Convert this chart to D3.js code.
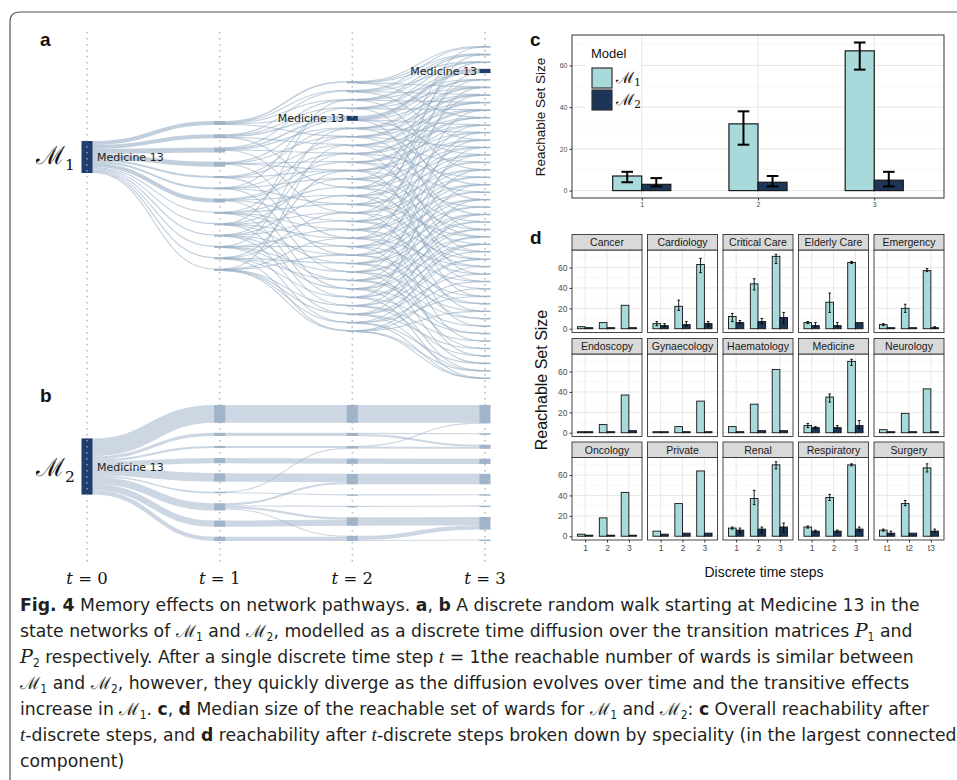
<!DOCTYPE html>
<html>
<head>
<meta charset="utf-8">
<script src="https://cdn.jsdelivr.net/npm/d3@7"></script>
<style>
  body { margin: 0; background: #fff; }
  svg { display: block; }
</style>
</head>
<body>
<svg id="fig" width="957" height="780"></svg>
<script>
// ---------- data ----------
const steps = [0, 1, 2, 3];
const wardLabel = "Medicine 13";

// panel a (M1): t0 -> t1 flows [from, to, weight]
const flowA01 = [[0,0,4],[0,1,4],[0,2,5],[0,3,5],[0,4,2],[0,5,2],[0,6,4],[0,7,1],[0,8,1],[0,9,1],[0,10,1],[0,11,1],[0,12,1]];
// t1 -> t2 : wards reached from each t1 ward
const reachA12 = [
  [0,1,2,4,6], [1,3,4,7,12], [2,4,5,8,15], [4,6,9,10,18], [5,7,10,20],
  [3,8,11,14,22], [9,10,13,16,24], [6,12,14,17,19,25], [2,11,15,18,21,26],
  [8,13,16,20,23,27], [5,17,19,22,24,28], [10,15,21,23,25,29], [7,18,20,26,27,28,29]
];
const heavyA12 = [[0,0,1.6],[0,2,1],[1,1,1],[1,4,1.5],[2,4,1.5],[3,4,1.2],[4,5,1],[6,9,1]];
// t2 -> t3
const reachA23 = [
  [0,1,2,5,9], [0,1,3,6,12], [1,2,4,7,16], [2,3,5,8,20], [3,4,6,10,14,24],
  [4,5,7,11,18], [5,6,8,13,22], [6,7,9,15,27], [7,8,10,17,30], [8,9,11,19,25],
  [9,10,12,21,33], [0,11,13,23,28], [2,12,14,24,31], [4,13,15,26,35], [1,14,16,25,29],
  [6,15,17,27,37], [3,16,18,28,32], [10,17,19,30,39], [5,18,20,29,34], [12,19,21,31,41],
  [8,20,22,33,36], [14,21,23,34,40], [11,22,24,35,42], [16,23,25,36,38], [18,24,26,37,43],
  [13,25,27,38,44], [20,26,28,39,41], [22,28,30,40,43], [26,31,33,42,44], [29,32,35,43,44]
];
const heavyA23 = [[4,3,3.2],[0,0,1],[1,1,0.8]];
const thinFlow = 0.35;
const medicineA = [0, -1, 4, 3];

// panel b (M2)
const flowB01 = [[0,0,17],[0,1,3],[0,2,2],[0,3,5],[0,4,8],[0,5,1.5],[0,6,7],[0,7,6],[0,8,4]];
const flowB12 = [[0,0,17],[1,1,3],[2,2,2],[3,3,5],[4,4,8],[5,5,1],[5,2,0.5],[6,4,2],[6,6,1],[6,7,2],[6,8,1],[7,7,6],[8,8,4]];
const flowB23 = [[0,0,17],[1,1,1],[1,2,2],[2,0,0.5],[2,2,2],[3,3,5],[4,4,10],[5,5,1],[6,6,1],[7,7,8],[8,7,4],[8,8,1]];
const medicineB = [0, -1, -1, -1];

// panel c: overall median reachable set size
const timeSteps = ["1", "2", "3"];
const overallM1 = [7, 32, 67];
const overallM1Lo = [4, 22, 58];
const overallM1Hi = [9, 38, 71];
const overallM2 = [3, 4, 5];
const overallM2Lo = [2, 2, 2];
const overallM2Hi = [6, 7, 9];
const yTicks = [0, 20, 40, 60];

// panel d: by speciality
const specialities = ["Cancer","Cardiology","Critical Care","Elderly Care","Emergency",
  "Endoscopy","Gynaecology","Haematology","Medicine","Neurology",
  "Oncology","Private","Renal","Respiratory","Surgery"];
const specM1 = [[2,6,23],[5,22,63],[12,44,71],[6,26,65],[4,20,57],
  [1,8,37],[1,6,31],[6,28,62],[7,35,70],[3,19,43],
  [2,18,43],[5,32,64],[8,37,70],[9,38,70],[6,32,67]];
const specM1Lo = [[2,6,23],[3,18,55],[7,38,64],[5,16,64],[3,16,56],
  [1,8,37],[1,6,31],[6,28,62],[5,30,66],[3,19,43],
  [2,18,43],[5,32,64],[7,31,66],[8,35,69],[5,30,63]];
const specM1Hi = [[2,6,23],[7,28,69],[15,49,73],[7,35,66],[5,24,59],
  [1,8,37],[1,6,31],[6,28,62],[9,38,72],[3,19,43],
  [2,18,43],[5,32,64],[9,45,73],[10,41,71],[7,35,71]];
const specM2 = [[1,1,1],[3,4,5],[6,7,11],[3,3,6],[1,1,1],
  [1,1,2],[1,1,1],[1,2,2],[5,5,7],[1,1,1],
  [1,1,1],[2,3,3],[6,7,9],[5,5,7],[3,3,5]];
const specM2Lo = [[1,1,1],[2,3,2],[5,5,5],[2,2,6],[1,1,0.5],
  [1,1,2],[1,1,1],[1,2,2],[4,4,4],[1,1,1],
  [1,1,1],[2,3,3],[3,3,4],[4,4,5],[2,3,4]];
const specM2Hi = [[1,1,1],[5,7,7],[8,10,16],[6,6,6],[1,1,2],
  [1,1,2],[1,1,1],[1,2,2],[6,7,12],[1,1,1],
  [1,1,1],[2,3,3],[8,9,13],[6,6,9],[5,3,7]];
const stepTicks = ["1", "2", "3"];
const surgeryTicks = ["t1", "t2", "t3"];

const captionLines = [
  [["b","Fig. 4"],["r","  Memory effects on network pathways. "],["b","a"],["r",", "],["b","b"],["r"," A discrete random walk starting at Medicine 13 in the"]],
  [["r","state networks of "],["m","1"],["r"," and "],["m","2"],["r",", modelled as a discrete time diffusion over the transition matrices "],["p","1"],["r"," and"]],
  [["p","2"],["r"," respectively. After a single discrete time step "],["i","t"],["r"," = 1the reachable number of wards is similar between"]],
  [["m","1"],["r"," and "],["m","2"],["r",", however, they quickly diverge as the diffusion evolves over time and the transitive effects"]],
  [["r","increase in "],["m","1"],["r",". "],["b","c"],["r",", "],["b","d"],["r"," Median size of the reachable set of wards for "],["m","1"],["r"," and "],["m","2"],["r",": "],["b","c"],["r"," Overall reachability after"]],
  [["i","t"],["r","-discrete steps, and "],["b","d"],["r"," reachability after "],["i","t"],["r","-discrete steps broken down by speciality (in the largest connected"]],
  [["r","component)"]]
];

// ---------- drawing ----------
const svg = d3.select("#fig");
const SANS = "'Liberation Sans', Arial, sans-serif";
const colM1 = "#a8dadc", colM2 = "#1d3557";
const navy = "#1f3d6e", flowCol = "#8ea7c0";

// frame
svg.append("path")
  .attr("d", "M10,780 V22 Q10,12 20,12 H957")
  .attr("fill", "none").attr("stroke", "#555").attr("stroke-width", 1.2);

// ---- panels a, b : diffusion flows ----
const xStep = d3.scalePoint().domain(steps).range([87, 485]);
const linkGen = d3.linkHorizontal();

function weighted(reach, heavy) {
  return reach.flatMap((ts, s) => ts.map(t => {
    const h = heavy.find(d => d[0] === s && d[1] === t);
    return [s, t, h ? h[2] : thinFlow];
  }));
}

function drawFlows(g, flows, ranges, k, medIdx, opacity) {
  const counts = [d3.max(flows[0], d => d[0]) + 1].concat(flows.map(fl => d3.max(fl, d => d[1]) + 1));
  const cols = counts.map((n, c) => d3.range(n).map(i => ({ c, i, inV: 0, outV: 0, ins: [], outs: [] })));
  const links = [];
  flows.forEach((fl, c) => fl.forEach(([s, t, v]) => {
    const l = { s: cols[c][s], t: cols[c + 1][t], v, c };
    l.s.outs.push(l); l.t.ins.push(l);
    l.s.outV += v; l.t.inV += v;
    links.push(l);
  }));

  cols.forEach((col, c) => {
    col.forEach(n => n.h = Math.max(1.5, Math.max(n.inV, n.outV) * k));
    const [r0, r1] = ranges[c];
    if (col.length === 1) {
      col[0].y0 = (r0 + r1) / 2 - col[0].h / 2;
    } else {
      const gap = (r1 - r0 - d3.sum(col, n => n.h)) / (col.length - 1);
      let y = r0;
      col.forEach(n => { n.y0 = y; y += n.h + gap; });
    }
  });

  cols.flat().forEach(n => {
    let y = n.y0;
    n.outs.sort((a, b) => a.t.y0 - b.t.y0).forEach(l => { l.y0 = y + l.v * k / 2; y += l.v * k; });
    y = n.y0;
    n.ins.sort((a, b) => a.s.y0 - b.s.y0).forEach(l => { l.y1 = y + l.v * k / 2; y += l.v * k; });
  });

  g.append("g").attr("fill", "none").attr("stroke", flowCol).attr("stroke-opacity", opacity)
    .selectAll("path").data(links).join("path")
    .attr("d", l => linkGen({ source: [xStep(steps[l.c]) + 5, l.y0], target: [xStep(steps[l.c + 1]) - 5, l.y1] }))
    .attr("stroke-width", l => Math.max(1.1, l.v * k));

  const nodes = cols.flat();
  g.append("g").selectAll("rect").data(nodes).join("rect")
    .attr("x", n => xStep(steps[n.c]) - 5.5)
    .attr("y", n => n.y0)
    .attr("width", 11)
    .attr("height", n => n.h)
    .attr("fill", n => medIdx[n.c] === n.i ? navy : "#8fa8c0")
    .attr("fill-opacity", n => medIdx[n.c] === n.i ? 1 : 0.85);

  nodes.filter(n => medIdx[n.c] === n.i).forEach(n => {
    const x = xStep(steps[n.c]);
    g.append("text")
      .attr("x", n.c === 0 ? x + 10 : x - 8)
      .attr("y", n.y0 + n.h / 2 + 4)
      .attr("text-anchor", n.c === 0 ? "start" : "end")
      .attr("font-family", "'DejaVu Sans', Verdana, sans-serif")
      .attr("font-size", 11).attr("fill", "#222")
      .text(wardLabel);
  });
}

const gA = svg.append("g");
drawFlows(gA, [flowA01, weighted(reachA12, heavyA12), weighted(reachA23, heavyA23)],
  [[141, 173], [121, 271], [81, 332], [46, 379]], 1, medicineA, 0.55);

const gB = svg.append("g");
drawFlows(gB, [flowB01, flowB12, flowB23],
  [[437, 496], [405, 541], [405, 541], [405, 541]], 1.05, medicineB, 0.45);

// dotted time columns
svg.append("g").selectAll("line").data(steps).join("line")
  .attr("x1", d => xStep(d)).attr("x2", d => xStep(d))
  .attr("y1", 32).attr("y2", 562)
  .attr("stroke", "#aaa").attr("stroke-opacity", 0.8)
  .attr("stroke-width", 1.6).attr("stroke-dasharray", "1.6,4.4");

// time labels
steps.forEach(s => {
  const t = svg.append("text").attr("x", xStep(s)).attr("y", 584)
    .attr("text-anchor", "middle").attr("font-family", "'DejaVu Serif', 'Liberation Serif', serif")
    .attr("font-size", 16.5).attr("fill", "#111");
  t.append("tspan").attr("font-style", "italic").text("t");
  t.append("tspan").text(" = " + s);
});

// model labels
function mathM(x, y, sub, size) {
  const t = svg.append("text").attr("x", x).attr("y", y)
    .attr("font-family", "'DejaVu Serif', 'Liberation Serif', serif").attr("fill", "#111");
  t.append("tspan").attr("font-size", size).text("ℳ");
  t.append("tspan").attr("font-size", size * 0.62).attr("dy", size * 0.25).text(sub);
  return t;
}
mathM(36, 164, "1", 25);
mathM(36, 476, "2", 25);

// panel letters
[["a", 40, 46], ["b", 40, 402], ["c", 530, 46], ["d", 530, 244]].forEach(([l, x, y]) => {
  svg.append("text").attr("x", x).attr("y", y).attr("font-family", SANS)
    .attr("font-weight", "bold").attr("font-size", 19).attr("fill", "#111").text(l);
});

// ---- panel c ----
const cX = d3.scaleLinear().domain([0.4, 3.6]).range([572, 944]);
const cY = d3.scaleLinear().domain([-3.55, 74.6]).range([198, 35]);
const gC = svg.append("g");
gC.append("g").selectAll("line").data([10, 30, 50, 70]).join("line")
  .attr("x1", 572).attr("x2", 944).attr("y1", d => cY(d)).attr("y2", d => cY(d))
  .attr("stroke", "#f0f0f0").attr("stroke-width", 0.6);
gC.append("g").selectAll("line").data(yTicks).join("line")
  .attr("x1", 572).attr("x2", 944).attr("y1", d => cY(d)).attr("y2", d => cY(d))
  .attr("stroke", "#e6e6e6").attr("stroke-width", 1);
gC.append("g").selectAll("line").data(timeSteps).join("line")
  .attr("x1", (d, i) => cX(i + 1)).attr("x2", (d, i) => cX(i + 1)).attr("y1", 35).attr("y2", 198)
  .attr("stroke", "#e6e6e6").attr("stroke-width", 1);

const cBars = timeSteps.flatMap((s, i) => [
  { i, off: -0.25, v: overallM1[i], lo: overallM1Lo[i], hi: overallM1Hi[i], fill: colM1 },
  { i, off: 0, v: overallM2[i], lo: overallM2Lo[i], hi: overallM2Hi[i], fill: colM2 }
]);
gC.append("g").selectAll("rect").data(cBars).join("rect")
  .attr("x", d => cX(d.i + 1 + d.off)).attr("width", d => cX(d.i + 1.25) - cX(d.i + 1))
  .attr("y", d => cY(d.v)).attr("height", d => cY(0) - cY(d.v))
  .attr("fill", d => d.fill).attr("stroke", "#1a1a1a").attr("stroke-width", 1.2);
const cErr = gC.append("g").attr("stroke", "#000").attr("stroke-width", 2);
cBars.forEach(d => {
  const cx = cX(d.i + 1 + d.off + 0.125);
  const hw = cX(0.05) - cX(0);
  cErr.append("line").attr("x1", cx).attr("x2", cx).attr("y1", cY(d.lo)).attr("y2", cY(d.hi));
  cErr.append("line").attr("x1", cx - hw).attr("x2", cx + hw).attr("y1", cY(d.lo)).attr("y2", cY(d.lo));
  cErr.append("line").attr("x1", cx - hw).attr("x2", cx + hw).attr("y1", cY(d.hi)).attr("y2", cY(d.hi));
});
gC.append("rect").attr("x", 572).attr("y", 35).attr("width", 372).attr("height", 163)
  .attr("fill", "none").attr("stroke", "#333").attr("stroke-width", 1);
gC.append("g").call(d3.axisLeft(cY).tickValues(yTicks).tickSize(2.5).tickPadding(2))
  .attr("transform", "translate(572,0)")
  .call(g => { g.select(".domain").remove(); g.selectAll("line").attr("stroke", "#333");
    g.selectAll("text").attr("font-family", SANS).attr("font-size", 7).attr("fill", "#4d4d4d"); });
gC.append("g").attr("transform", "translate(0,198)")
  .call(d3.axisBottom(cX).tickValues([1, 2, 3]).tickFormat((d, i) => timeSteps[i]).tickSize(2.5).tickPadding(2))
  .call(g => { g.select(".domain").remove(); g.selectAll("line").attr("stroke", "#333");
    g.selectAll("text").attr("font-family", SANS).attr("font-size", 7).attr("fill", "#4d4d4d"); });
gC.append("text").attr("transform", "translate(545,117) rotate(-90)").attr("text-anchor", "middle")
  .attr("font-family", SANS).attr("font-size", 13.5).attr("fill", "#111").text("Reachable Set Size");

// legend
gC.append("rect").attr("x", 585).attr("y", 40).attr("width", 56).attr("height", 73).attr("fill", "#fff");
gC.append("text").attr("x", 591).attr("y", 58).attr("font-family", SANS).attr("font-size", 13)
  .attr("fill", "#111").text("Model");
[[colM1, "1", 68], [colM2, "2", 90]].forEach(([fill, sub, y]) => {
  gC.append("rect").attr("x", 592).attr("y", y).attr("width", 20).attr("height", 20)
    .attr("fill", fill).attr("stroke", "#333").attr("stroke-width", 1.2);
  const t = gC.append("text").attr("x", 616).attr("y", y + 15)
    .attr("font-family", "'DejaVu Serif', serif").attr("fill", "#111");
  t.append("tspan").attr("font-size", 16).text("ℳ");
  t.append("tspan").attr("font-size", 11).attr("dy", 3).text(sub);
});

// ---- panel d ----
const gD = svg.append("g");
const facetW = 70, facetStep = 75.5, stripH = 15.5, facetH = 82.5;
const stripTops = [234.5, 338.5, 442];
specialities.forEach((name, k) => {
  const col = k % 5, row = Math.floor(k / 5);
  const left = 572 + col * facetStep;
  const top = stripTops[row] + stripH;
  const x = d3.scaleLinear().domain([0.4, 3.6]).range([left, left + facetW]);
  const y = d3.scaleLinear().domain([-3.7, 77.2]).range([top + facetH, top]);
  const g = gD.append("g");
  g.append("g").selectAll("line").data([10, 30, 50, 70]).join("line")
    .attr("x1", left).attr("x2", left + facetW).attr("y1", d => y(d)).attr("y2", d => y(d))
    .attr("stroke", "#f0f0f0").attr("stroke-width", 0.5);
  g.append("g").selectAll("line").data(yTicks).join("line")
    .attr("x1", left).attr("x2", left + facetW).attr("y1", d => y(d)).attr("y2", d => y(d))
    .attr("stroke", "#e6e6e6").attr("stroke-width", 0.9);
  g.append("g").selectAll("line").data([1, 2, 3]).join("line")
    .attr("x1", d => x(d)).attr("x2", d => x(d)).attr("y1", top).attr("y2", top + facetH)
    .attr("stroke", "#e6e6e6").attr("stroke-width", 0.9);

  const bars = [0, 1, 2].flatMap(i => [
    { i, off: -0.35, v: specM1[k][i], lo: specM1Lo[k][i], hi: specM1Hi[k][i], fill: colM1 },
    { i, off: 0, v: specM2[k][i], lo: specM2Lo[k][i], hi: specM2Hi[k][i], fill: colM2 }
  ]);
  g.append("g").selectAll("rect").data(bars).join("rect")
    .attr("x", d => x(d.i + 1 + d.off)).attr("width", x(1.35) - x(1))
    .attr("y", d => y(d.v)).attr("height", d => y(0) - y(d.v))
    .attr("fill", d => d.fill).attr("stroke", "#111").attr("stroke-width", 0.9);
  const eg = g.append("g").attr("stroke", "#000").attr("stroke-width", 0.9);
  bars.filter(d => d.hi > d.lo).forEach(d => {
    const cx = x(d.i + 1 + d.off + 0.175), hw = 1.3;
    eg.append("line").attr("x1", cx).attr("x2", cx).attr("y1", y(d.lo)).attr("y2", y(d.hi));
    eg.append("line").attr("x1", cx - hw).attr("x2", cx + hw).attr("y1", y(d.lo)).attr("y2", y(d.lo));
    eg.append("line").attr("x1", cx - hw).attr("x2", cx + hw).attr("y1", y(d.hi)).attr("y2", y(d.hi));
  });
  g.append("rect").attr("x", left).attr("y", top).attr("width", facetW).attr("height", facetH)
    .attr("fill", "none").attr("stroke", "#333").attr("stroke-width", 0.9);
  g.append("rect").attr("x", left).attr("y", stripTops[row]).attr("width", facetW).attr("height", stripH)
    .attr("fill", "#d9d9d9").attr("stroke", "#333").attr("stroke-width", 0.9);
  g.append("text").attr("x", left + facetW / 2).attr("y", stripTops[row] + 11.5)
    .attr("text-anchor", "middle").attr("font-family", SANS).attr("font-size", 10.5)
    .attr("fill", "#1a1a1a").text(name);

  if (col === 0) {
    g.append("g").attr("transform", `translate(${left},0)`)
      .call(d3.axisLeft(y).tickValues(yTicks).tickSize(2.5).tickPadding(2))
      .call(a => { a.select(".domain").remove(); a.selectAll("line").attr("stroke", "#333");
        a.selectAll("text").attr("font-family", SANS).attr("font-size", 8.5).attr("fill", "#4d4d4d"); });
  }
  if (row === 2) {
    const labels = name === "Surgery" ? surgeryTicks : stepTicks;
    g.append("g").attr("transform", `translate(0,${top + facetH})`)
      .call(d3.axisBottom(x).tickValues([1, 2, 3]).tickFormat((d, i) => labels[i]).tickSize(2.5).tickPadding(2))
      .call(a => { a.select(".domain").remove(); a.selectAll("line").attr("stroke", "#333");
        a.selectAll("text").attr("font-family", SANS).attr("font-size", 8.5).attr("fill", "#4d4d4d"); });
  }
});
gD.append("text").attr("transform", "translate(547,380) rotate(-90)").attr("text-anchor", "middle")
  .attr("font-family", SANS).attr("font-size", 16).attr("fill", "#111").text("Reachable Set Size");
gD.append("text").attr("x", 764).attr("y", 577).attr("text-anchor", "middle")
  .attr("font-family", SANS).attr("font-size", 14).attr("fill", "#111").text("Discrete time steps");

// ---- caption ----
const capG = svg.append("g")
  .attr("font-family", "'Liberation Sans Narrow', 'DejaVu Sans Condensed', 'Open Sans', sans-serif")
  .attr("font-size", 18.5).attr("fill", "#231f20");
const capTexts = captionLines.map((segs, li) => {
  const t = capG.append("text").attr("x", 0).attr("y", 0);
  let pendingDy = 0;
  const add = () => { const s = t.append("tspan"); if (pendingDy) { s.attr("dy", pendingDy); pendingDy = 0; } return s; };
  segs.forEach(([kind, str]) => {
    if (kind === "b") add().attr("font-weight", "bold").text(str);
    else if (kind === "i") add().attr("font-style", "italic").attr("font-family", "'Liberation Serif', serif").text(str);
    else if (kind === "m" || kind === "p") {
      add().attr("font-style", kind === "m" ? null : "italic")
        .attr("font-family", "'DejaVu Serif', 'Liberation Serif', serif")
        .attr("font-size", kind === "m" ? 17 : 18.5).text(kind === "m" ? "ℳ" : "P");
      t.append("tspan").attr("font-size", 11.5).attr("dy", 4).text(str);
      pendingDy = -4;
    } else add().text(str);
  });
  return t;
});
const fitScale = 900 / capTexts[0].node().getComputedTextLength();
capTexts.forEach((t, li) => t.attr("transform", `translate(20,${611 + li * 26}) scale(${fitScale},1)`));
</script>
</body>
</html>
